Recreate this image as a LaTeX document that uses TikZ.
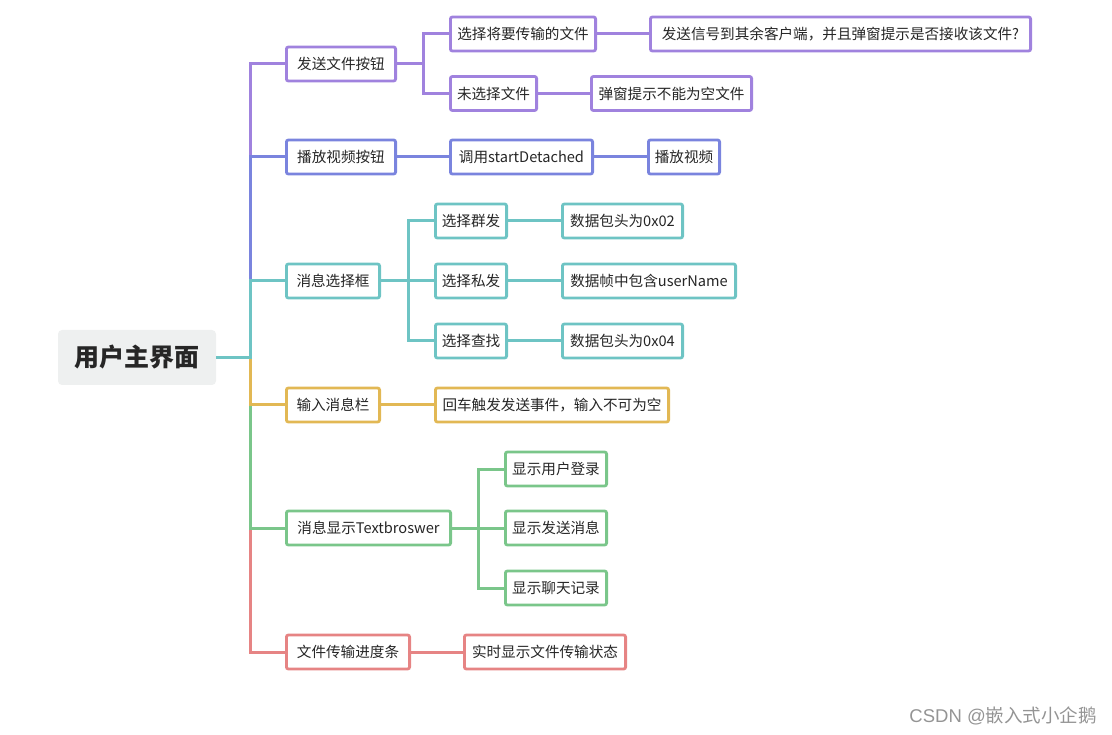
\documentclass[tikz,border=0pt]{standalone}
\usepackage{fontspec}
\setmainfont{Noto Sans CJK SC}
\newfontfamily\wmlatin{Liberation Sans}
\definecolor{cpur}{RGB}{160,130,222}
\definecolor{cblu}{RGB}{122,132,222}
\definecolor{ctea}{RGB}{110,196,196}
\definecolor{cyel}{RGB}{226,184,84}
\definecolor{cgre}{RGB}{122,198,138}
\definecolor{cred}{RGB}{230,132,132}
\definecolor{rootfill}{RGB}{238,240,240}
\tikzset{
  bx/.style={draw=#1, line width=2.8pt, rounded corners=2pt, fill=white,
    minimum height=34pt, inner xsep=6pt, inner ysep=0pt,
    font=\fontsize{14.6}{16}\selectfont, text=black!85},
  w/.style={minimum width=#1pt-2.8pt},
  ln/.style={draw=#1, line width=3pt},
  rootbox/.style={fill=rootfill, rounded corners=4pt, minimum width=158pt,
    minimum height=55pt, font=\fontsize{25}{28}\selectfont\bfseries, text=black!85},
}
\begin{document}
\begin{tikzpicture}[x=1pt,y=-1pt]
\useasboundingbox (0,0) rectangle (1112,735);
% nodes
\node[rootbox] (root) at (137,357.5) {用户主界面};
\node[bx=cpur, w=112] (a) at (341,64) {发送文件按钮};
\node[bx=cpur, w=148] (a1) at (523,34) {选择将要传输的文件};
\node[bx=cpur, w=383] (a11) at (840.5,34) {发送信号到其余客户端，并且弹窗提示是否接收该文件?};
\node[bx=cpur, w=89] (a2) at (493.5,93.5) {未选择文件};
\node[bx=cpur, w=163] (a21) at (671.5,93.5) {弹窗提示不能为空文件};
\node[bx=cblu, w=112] (b) at (341,157) {播放视频按钮};
\node[bx=cblu, w=145] (b1) at (521.5,157) {调用startDetached};
\node[bx=cblu, w=74] (b11) at (684,157) {播放视频};
\node[bx=ctea, w=96] (c) at (333,281) {消息选择框};
\node[bx=ctea, w=74] (c1) at (471,221) {选择群发};
\node[bx=ctea, w=123] (c11) at (622.5,221) {数据包头为0x02};
\node[bx=ctea, w=74] (c2) at (471,281) {选择私发};
\node[bx=ctea, w=176] (c21) at (649,281) {数据帧中包含userName};
\node[bx=ctea, w=74] (c3) at (471,341) {选择查找};
\node[bx=ctea, w=123] (c31) at (622.5,341) {数据包头为0x04};
\node[bx=cyel, w=96] (d) at (333,405) {输入消息栏};
\node[bx=cyel, w=236] (d1) at (552,405) {回车触发发送事件，输入不可为空};
\node[bx=cgre, w=167] (e) at (368.5,528) {消息显示Textbroswer};
\node[bx=cgre, w=104] (e1) at (556,469) {显示用户登录};
\node[bx=cgre, w=104] (e2) at (556,528) {显示发送消息};
\node[bx=cgre, w=104] (e3) at (556,588) {显示聊天记录};
\node[bx=cred, w=126] (f) at (348,652) {文件传输进度条};
\node[bx=cred, w=164] (f1) at (545,652) {实时显示文件传输状态};
\node[text=black!42, font=\fontsize{18.5}{20}\selectfont, anchor=east, inner sep=0pt] (wm) at (1097,716) {{\wmlatin CSDN @}嵌入式小企鹅};
% trunk
\coordinate (tr) at (250,357.5);
\draw[ln=cpur] (root.east) -- (tr) |- (a.west);
\draw[ln=cblu] (tr) |- (b.west);
\draw[ln=cred] (tr) |- (f.west);
\draw[ln=cgre] (tr) |- (e.west);
\draw[ln=cyel] (tr) |- (d.west);
\draw[ln=ctea] (root.east) -- (tr) |- (c.west);
% sub-branches
\coordinate (ja) at (423,64);
\coordinate (jc) at (408,281);
\coordinate (je) at (478,528);
\draw[ln=cpur] (a.east) -- (ja) |- (a1.west);
\draw[ln=cpur] (ja) |- (a2.west);
\draw[ln=cpur] (a1) -- (a11);
\draw[ln=cpur] (a2) -- (a21);
\draw[ln=cblu] (b) -- (b1);
\draw[ln=cblu] (b1) -- (b11);
\draw[ln=ctea] (c.east) -- (jc) |- (c1.west);
\draw[ln=ctea] (jc) -- (c2.west);
\draw[ln=ctea] (jc) |- (c3.west);
\draw[ln=ctea] (c1) -- (c11);
\draw[ln=ctea] (c2) -- (c21);
\draw[ln=ctea] (c3) -- (c31);
\draw[ln=cyel] (d) -- (d1);
\draw[ln=cgre] (e.east) -- (je) |- (e1.west);
\draw[ln=cgre] (je) -- (e2.west);
\draw[ln=cgre] (je) |- (e3.west);
\draw[ln=cred] (f) -- (f1);
\end{tikzpicture}
\end{document}
